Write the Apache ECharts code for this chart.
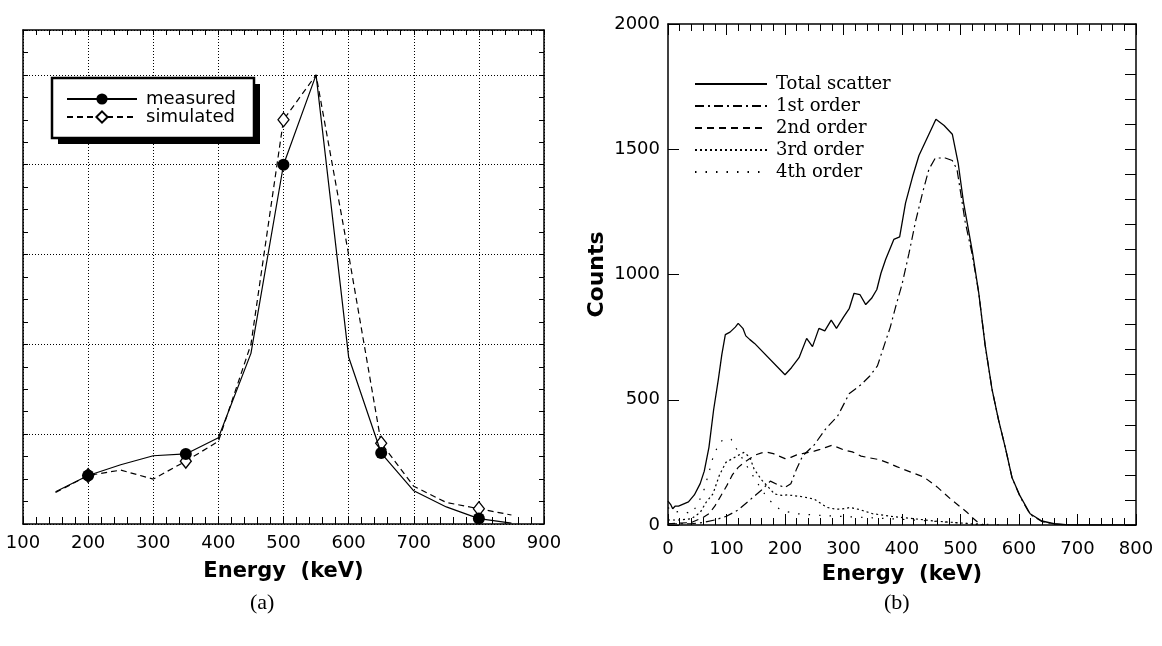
<!DOCTYPE html>
<html><head><meta charset="utf-8">
<script src="https://cdn.jsdelivr.net/npm/echarts@6/dist/echarts.min.js"></script>
<style>html,body{margin:0;padding:0;background:#fff}#c{width:1162px;height:646px}</style>
</head><body><div id="c"></div>
<script>
// ---------- Panel (a) data ----------
const energyA = [150, 200, 250, 300, 350, 400, 450, 500, 550, 600, 650, 700, 750, 800, 850];
const measuredA = [0.36, 0.54, 0.66, 0.76, 0.78, 0.96, 1.90, 4.00, 5.00, 1.86, 0.79, 0.37, 0.19, 0.06, 0.01];
const simulatedA = [0.35, 0.54, 0.60, 0.50, 0.70, 0.92, 2.00, 4.50, 5.00, 3.00, 0.90, 0.42, 0.24, 0.17, 0.10];
const markerEnergiesA = [200, 350, 500, 650, 800];

// ---------- Panel (b) data: [energy keV, counts] ----------
const totalScatter = [[0,95],[5,80],[8,65],[12,75],[18,75],[25,82],[35,92],[45,120],[55,165],[62,215],[70,310],[78,460],[86,580],[92,680],[98,760],[106,770],[115,790],[120,805],[128,785],[133,755],[140,740],[148,725],[200,600],[211,628],[224,668],[237,745],[247,712],[258,785],[268,775],[279,818],[288,785],[300,830],[310,865],[318,925],[328,920],[338,880],[348,905],[357,940],[364,1005],[372,1060],[386,1140],[396,1150],[406,1285],[418,1390],[429,1475],[442,1540],[458,1620],[472,1595],[486,1560],[496,1445],[505,1290],[520,1095],[531,930],[542,720],[554,540],[565,420],[577,305],[588,190],[602,115],[619,45],[639,16],[660,5],[680,1],[700,0],[800,0]];
const firstOrder = [[0,5],[40,5],[60,10],[80,20],[100,35],[120,60],[140,100],[160,140],[175,175],[190,158],[200,150],[210,165],[220,225],[230,275],[250,320],[270,385],[290,435],[310,525],[330,560],[345,595],[358,635],[370,720],[380,790],[389,870],[400,960],[412,1085],[423,1210],[435,1325],[446,1420],[457,1465],[474,1465],[486,1455],[494,1420],[500,1330],[508,1210],[520,1080],[531,930],[542,720],[554,540],[565,420],[577,305],[588,190],[602,112],[619,42],[639,14],[660,4],[690,0]];
const secondOrder = [[0,5],[40,10],[60,30],[70,45],[80,75],[90,115],[100,155],[110,200],[120,230],[130,250],[140,265],[150,280],[160,288],[170,290],[180,285],[190,275],[200,265],[210,270],[220,280],[230,285],[240,290],[250,295],[260,302],[270,310],[280,318],[290,310],[300,300],[315,292],[330,275],[345,268],[361,261],[376,248],[391,233],[415,211],[437,192],[460,152],[485,100],[511,51],[520,30],[530,10],[540,0]];
const thirdOrder = [[0,20],[20,20],[40,25],[55,50],[65,90],[77,125],[88,200],[99,250],[110,265],[120,278],[130,290],[140,270],[147,224],[160,180],[172,150],[182,124],[195,118],[204,120],[216,117],[232,112],[250,103],[262,85],[272,70],[285,64],[295,63],[312,70],[330,60],[350,45],[380,35],[420,25],[460,15],[500,8],[540,0]];
const fourthOrder = [[0,70],[10,50],[23,56],[40,45],[51,83],[62,144],[70,210],[77,271],[88,330],[98,345],[108,342],[118,300],[130,255],[140,215],[150,180],[160,140],[170,110],[180,82],[190,65],[200,55],[220,45],[250,40],[280,36],[310,33],[340,30],[380,25],[420,20],[460,14],[500,8],[540,3],[580,0]];

const SANS = 'DejaVu Sans';
const SERIF = 'DejaVu Serif';
const BLACK = '#000';

function withMarkers(xs, ys, marks) {
  return xs.map((x, i) => marks.includes(x) ? [x, ys[i]] : { value: [x, ys[i]], symbol: 'none' });
}
const plain = v => String(v);

const chart = echarts.init(document.getElementById('c'), null, { renderer: 'canvas' });

const frameLine = { show: true, onZero: false, lineStyle: { color: BLACK, width: 1.5 } };
const tickStyle = { color: BLACK, width: 1 };
const dotted = { color: BLACK, width: 1, type: [1, 2] };

const option = {
  animation: false,
  backgroundColor: '#fff',
  grid: [
    { left: 23, top: 30, width: 521, height: 494, containLabel: false },
    { left: 668, top: 24, width: 468, height: 501, containLabel: false }
  ],
  legend: [
    {
      orient: 'vertical', left: 66, top: 90, z: 20,
      itemWidth: 70, itemHeight: 14, itemGap: 0,
      padding: 0,
      textStyle: { fontFamily: SANS, fontSize: 18, color: BLACK, padding: [0, 0, 0, 4] },
      data: ['measured', 'simulated'],
      selectedMode: false
    },
    {
      orient: 'vertical', left: 694, top: 75,
      itemWidth: 72, itemHeight: 12, itemGap: 4,
      padding: 0,
      itemStyle: { opacity: 0 },
      textStyle: { fontFamily: SERIF, fontSize: 18, color: BLACK, padding: [0, 0, 0, 4] },
      data: ['Total scatter', '1st order', '2nd order', '3rd order', '4th order'],
      selectedMode: false
    }
  ],
  xAxis: [
    { // (a) bottom
      gridIndex: 0, type: 'value', min: 100, max: 900, interval: 100, position: 'bottom',
      axisLine: frameLine,
      axisTick: { show: true, inside: true, length: 7, lineStyle: tickStyle },
      minorTick: { show: true, splitNumber: 5, length: 7, lineStyle: tickStyle },
      splitLine: { show: true, lineStyle: dotted },
      axisLabel: { show: true, fontFamily: SANS, fontSize: 18, color: BLACK, margin: 10, formatter: plain },
      name: 'Energy  (keV)', nameLocation: 'middle', nameGap: 37,
      nameTextStyle: { fontFamily: SANS, fontWeight: 'bold', fontSize: 21, color: BLACK }
    },
    { // (a) top
      gridIndex: 0, type: 'value', min: 100, max: 900, interval: 100, position: 'top',
      axisLine: frameLine,
      axisTick: { show: true, inside: true, length: 5, lineStyle: tickStyle },
      minorTick: { show: true, splitNumber: 5, length: 5, lineStyle: tickStyle },
      splitLine: { show: false }, axisLabel: { show: false }
    },
    { // (b) bottom
      gridIndex: 1, type: 'value', min: 0, max: 800, interval: 100, position: 'bottom',
      axisLine: frameLine,
      axisTick: { show: true, inside: true, length: 11, lineStyle: tickStyle },
      minorTick: { show: true, splitNumber: 5, length: 7, lineStyle: tickStyle },
      splitLine: { show: false },
      axisLabel: { show: true, fontFamily: SANS, fontSize: 18, color: BLACK, margin: 15, formatter: plain },
      name: 'Energy  (keV)', nameLocation: 'middle', nameGap: 39,
      nameTextStyle: { fontFamily: SANS, fontWeight: 'bold', fontSize: 21, color: BLACK }
    },
    { // (b) top
      gridIndex: 1, type: 'value', min: 0, max: 800, interval: 100, position: 'top',
      axisLine: frameLine,
      axisTick: { show: true, inside: true, length: 11, lineStyle: tickStyle },
      minorTick: { show: true, splitNumber: 5, length: 7, lineStyle: tickStyle },
      splitLine: { show: false }, axisLabel: { show: false }
    }
  ],
  yAxis: [
    { // (a) left ticks
      gridIndex: 0, type: 'value', min: 0, max: 5.5, interval: 0.25, position: 'left',
      axisLine: frameLine,
      axisTick: { show: true, inside: true, length: 5, lineStyle: tickStyle },
      splitLine: { show: false }, axisLabel: { show: false }
    },
    { // (a) right ticks
      gridIndex: 0, type: 'value', min: 0, max: 5.5, interval: 0.25, position: 'right',
      axisLine: frameLine,
      axisTick: { show: true, inside: true, length: 5, lineStyle: tickStyle },
      splitLine: { show: false }, axisLabel: { show: false }
    },
    { // (a) grid lines
      gridIndex: 0, type: 'value', min: 0, max: 5.5, interval: 1, position: 'left',
      axisLine: { show: false }, axisTick: { show: false }, axisLabel: { show: false },
      splitLine: { show: true, lineStyle: dotted }
    },
    { // (b) left
      gridIndex: 1, type: 'value', min: 0, max: 2000, interval: 500, position: 'left',
      axisLine: frameLine,
      axisTick: { show: true, inside: true, length: 11, lineStyle: tickStyle },
      splitLine: { show: false },
      axisLabel: { show: true, fontFamily: SANS, fontSize: 18, color: BLACK, margin: 8, formatter: plain },
      name: 'Counts', nameLocation: 'middle', nameGap: 60, nameRotate: 90,
      nameTextStyle: { fontFamily: SANS, fontWeight: 'bold', fontSize: 22, color: BLACK }
    },
    { // (b) right
      gridIndex: 1, type: 'value', min: 0, max: 2000, interval: 500, position: 'right',
      axisLine: frameLine,
      axisTick: { show: true, inside: true, length: 11, lineStyle: tickStyle },
      minorTick: { show: true, splitNumber: 5, length: 11, lineStyle: tickStyle },
      splitLine: { show: false }, axisLabel: { show: false }
    }
  ],
  series: [
    {
      name: 'simulated', type: 'line', xAxisIndex: 0, yAxisIndex: 0,
      data: withMarkers(energyA, simulatedA, markerEnergiesA),
      symbol: 'diamond', symbolSize: [11, 14], showAllSymbol: true,
      itemStyle: { color: '#fff', borderColor: BLACK, borderWidth: 1.3 },
      lineStyle: { color: BLACK, width: 1.2, type: [6, 4] },
      emphasis: { disabled: true }, z: 3
    },
    {
      name: 'measured', type: 'line', xAxisIndex: 0, yAxisIndex: 0,
      data: withMarkers(energyA, measuredA, markerEnergiesA),
      symbol: 'circle', symbolSize: 12, showAllSymbol: true,
      itemStyle: { color: BLACK, borderColor: BLACK, borderWidth: 0 },
      lineStyle: { color: BLACK, width: 1.2, type: 'solid' },
      emphasis: { disabled: true }, z: 4
    },
    {
      name: 'Total scatter', type: 'line', xAxisIndex: 2, yAxisIndex: 3,
      data: totalScatter, symbol: 'none', color: BLACK,
      lineStyle: { color: BLACK, width: 1.3, type: 'solid' }, emphasis: { disabled: true }
    },
    {
      name: '1st order', type: 'line', xAxisIndex: 2, yAxisIndex: 3,
      data: firstOrder, symbol: 'none', color: BLACK,
      lineStyle: { color: BLACK, width: 1.2, type: [9, 4, 2, 4] }, emphasis: { disabled: true }
    },
    {
      name: '2nd order', type: 'line', xAxisIndex: 2, yAxisIndex: 3,
      data: secondOrder, symbol: 'none', color: BLACK,
      lineStyle: { color: BLACK, width: 1.2, type: [7, 5] }, emphasis: { disabled: true }
    },
    {
      name: '3rd order', type: 'line', xAxisIndex: 2, yAxisIndex: 3,
      data: thirdOrder, symbol: 'none', color: BLACK,
      lineStyle: { color: BLACK, width: 1.2, type: [2, 3] }, emphasis: { disabled: true }
    },
    {
      name: '4th order', type: 'line', xAxisIndex: 2, yAxisIndex: 3,
      data: fourthOrder, symbol: 'none', color: BLACK,
      lineStyle: { color: BLACK, width: 1.2, type: [1.5, 9] }, emphasis: { disabled: true }
    }
  ],
  graphic: [
    { type: 'rect', z: 10, shape: { x: 58, y: 84, width: 202, height: 60 }, style: { fill: BLACK } },
    { type: 'rect', z: 11, shape: { x: 52, y: 78, width: 202, height: 60 }, style: { fill: '#fff', stroke: BLACK, lineWidth: 2.5 } },
    { type: 'text', left: 250, top: 592, style: { text: '(a)', font: '22px "Liberation Serif"', fill: BLACK } },
    { type: 'text', left: 884, top: 592, style: { text: '(b)', font: '22px "Liberation Serif"', fill: BLACK } }
  ]
};
chart.setOption(option);
</script>
</body></html>
